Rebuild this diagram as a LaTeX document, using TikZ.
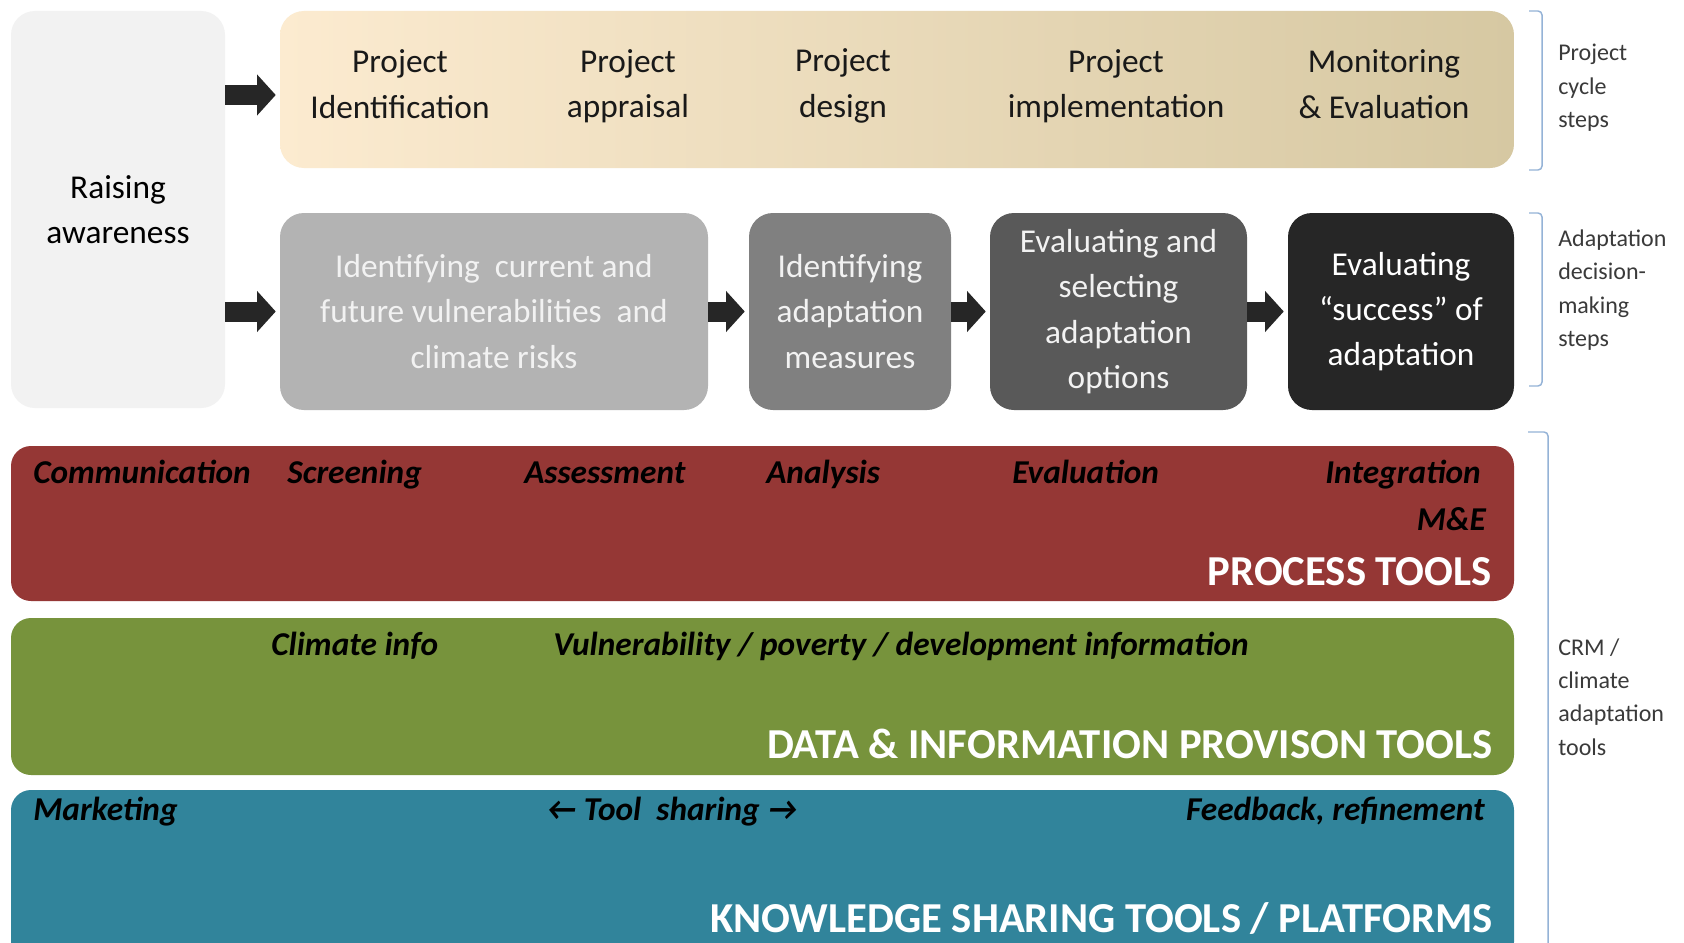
\documentclass[tikz,border=0pt]{standalone}
\usepackage{fontspec}
\setmainfont{Carlito}
\usetikzlibrary{arrows.meta}

\definecolor{raisegray}{HTML}{F2F2F2}
\definecolor{cycleleft}{HTML}{FCEBD0}
\definecolor{cyclemid}{HTML}{F5EEDB}
\definecolor{cycleright}{HTML}{D6C8A2}
\definecolor{stepone}{HTML}{B3B3B3}
\definecolor{steptwo}{HTML}{808080}
\definecolor{stepthree}{HTML}{595959}
\definecolor{stepfour}{HTML}{262626}
\definecolor{procred}{HTML}{953735}
\definecolor{dataolive}{HTML}{77933C}
\definecolor{knowteal}{HTML}{31849B}
\definecolor{arrowgray}{HTML}{262626}
\definecolor{bracecolor}{HTML}{95B3D7}
\definecolor{labelgray}{HTML}{3A3A3A}

\tikzset{
  box/.style={rounded corners=18pt, inner sep=0pt, align=center, font=\fontsize{25}{34}\selectfont},
  stepbox/.style={box, minimum height=147.75pt, text=raisegray},
  cyctext/.style={inner sep=0pt, align=center, font=\fontsize{25}{34}\selectfont, text=black!90},
  band/.style={rounded corners=15pt, inner sep=0pt, minimum width=1127.25pt},
  bandtext/.style={anchor=base west, inner sep=0pt, font=\fontsize{25}{34}\selectfont\bfseries\itshape, text=black},
  bandtitle/.style={anchor=base east, inner sep=0pt, font=\fontsize{32}{38}\selectfont\bfseries, text=white},
  sidelabel/.style={anchor=west, align=left, inner sep=0pt, font=\fontsize{18}{25}\selectfont, text=labelgray},
  blockarrow/.style={draw=arrowgray, line width=15pt, shorten >=3pt, -{Triangle[length=14pt,width=30pt]}},
  sidebrace/.style={draw=bracecolor, line width=1.1pt, rounded corners=3pt},
}

\begin{document}
\begin{tikzpicture}[x=0.75pt,y=0.75pt,yscale=-1,xscale=1]
\clip (0,0) rectangle (1684,942);
\fill[white] (0,0) rectangle (1684,942);

% Raising awareness
\node[box, fill=raisegray, minimum width=160.5pt, minimum height=297.75pt] (raise) at (118,209.5) {Raising\\awareness};

% Project cycle band
\node[box, left color=cycleleft, middle color=cyclemid, right color=cycleright, minimum width=925.5pt, minimum height=117.75pt] (cycle) at (897,89.5) {};
\node[cyctext] (pid) at (400,84) {Project\\Identification};
\node[cyctext] (pap) at (628,86) {Project\\appraisal};
\node[cyctext] (pde) at (843,86) {Project\\design};
\node[cyctext] (pim) at (1116,86) {Project\\implementation};
\node[cyctext] (pme) at (1384,84) {Monitoring\\\& Evaluation};

% Adaptation decision-making steps
\node[stepbox, fill=stepone, minimum width=321pt] (b1) at (494,311.5) {Identifying~ current and\\future vulnerabilities~ and\\climate risks};
\node[stepbox, fill=steptwo, minimum width=151.5pt] (b2) at (850,311.5) {Identifying\\adaptation\\measures};
\node[stepbox, fill=stepthree, minimum width=192.75pt] (b3) at (1118.5,311.5) {Evaluating and\\selecting\\adaptation\\options};
\node[stepbox, fill=stepfour, text=white, minimum width=169.5pt] (b4) at (1401,311.5) {Evaluating\\“success” of\\adaptation};

% Block arrows
\coordinate (toprow) at (0,95);
\draw[blockarrow] (raise.east |- toprow) -- (cycle.west |- toprow);
\draw[blockarrow] (raise.east |- b1.west) -- (b1.west);
\draw[blockarrow] (b1.east) -- (b2.west);
\draw[blockarrow] (b2.east) -- (b3.west);
\draw[blockarrow] (b3.east) -- (b4.west);

% Tool bands
\node[band, fill=procred, minimum height=116.25pt] (proc) at (762.5,523.5) {};
\node[band, fill=dataolive, minimum height=117.75pt] (data) at (762.5,696.5) {};
\node[band, fill=knowteal, minimum height=129pt] (know) at (762.5,876) {};

% Process tools
\node[bandtext] (comm) at (33,483) {Communication};
\node[bandtext] (scr) at (287,483) {Screening};
\node[bandtext] (ass) at (524,483) {Assessment};
\node[bandtext] (ana) at (766,483) {Analysis};
\node[bandtext] (eva) at (1012,483) {Evaluation};
\node[bandtext, anchor=base east] (integ) at (1481,483) {Integration};
\node[bandtext, anchor=base east] (mande) at (1486,530) {M\&E};
\node[bandtitle] (proctitle) at (1492,585) {PROCESS TOOLS};

% Data & information provision tools
\node[bandtext] (clim) at (271,655) {Climate info};
\node[bandtext] (vuln) at (553,655) {Vulnerability / poverty / development information};
\node[bandtitle] (datatitle) at (1493,758) {DATA \& INFORMATION PROVISON TOOLS};

% Knowledge sharing tools
\node[bandtext] (mark) at (33,820) {Marketing};
\node[bandtext] (share) at (546,820) {← Tool~ sharing →};
\node[bandtext, anchor=base east] (feed) at (1485,820) {Feedback, refinement};
\node[bandtitle] (knowtitle) at (1493,932) {KNOWLEDGE SHARING TOOLS / PLATFORMS};

% Side brackets and labels
\draw[sidebrace] (1529,11) -- (1542,11) -- (1542,170) -- (1529,170);
\draw[sidebrace] (1529,213) -- (1542,213) -- (1542,386) -- (1529,386);
\draw[sidebrace] (1528,432) -- (1548,432) -- (1548,960);
\node[sidelabel] (lcycle) at (1558,88) {Project\\cycle\\steps};
\node[sidelabel] (ladapt) at (1558,290) {Adaptation\\decision-\\making\\steps};
\node[sidelabel] (ltools) at (1558,697) {CRM /\\climate\\adaptation\\tools};

\end{tikzpicture}
\end{document}
